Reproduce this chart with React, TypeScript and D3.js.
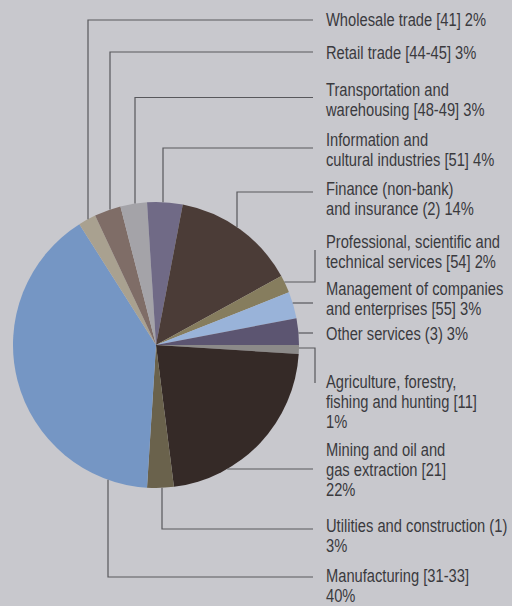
import React from "react";
import * as d3 from "d3";

const categories = [
  "Agriculture, forestry, fishing and hunting [11]",
  "Mining and oil and gas extraction [21]",
  "Utilities and construction (1)",
  "Manufacturing [31-33]",
  "Wholesale trade [41]",
  "Retail trade [44-45]",
  "Transportation and warehousing [48-49]",
  "Information and cultural industries [51]",
  "Finance (non-bank) and insurance (2)",
  "Professional, scientific and technical services [54]",
  "Management of companies and enterprises [55]",
  "Other services (3)",
];
const values = [1, 22, 3, 40, 2, 3, 3, 4, 14, 2, 3, 3];
const labelLines = [
  ["Agriculture, forestry,", "fishing and hunting [11]", "1%"],
  ["Mining and oil and", "gas extraction [21]", "22%"],
  ["Utilities and construction (1)", "3%"],
  ["Manufacturing [31-33]", "40%"],
  ["Wholesale trade [41] 2%"],
  ["Retail trade [44-45] 3%"],
  ["Transportation and", "warehousing [48-49] 3%"],
  ["Information and", "cultural industries [51] 4%"],
  ["Finance (non-bank)", "and insurance (2) 14%"],
  ["Professional, scientific and", "technical services [54] 2%"],
  ["Management of companies", "and enterprises [55] 3%"],
  ["Other services (3) 3%"],
];
const colors = [
  "#8c8a89", "#352a27", "#6a624c", "#7596c4", "#a9a190", "#7f6d67",
  "#a4a3a8", "#706a86", "#4b3c37", "#867d5e", "#99b3d9", "#5c5571",
];

type Leader =
  | { kind: "v"; x: number; y: number }
  | { kind: "h"; y: number }
  | { kind: "hv"; y: number; y2: number };
const layout: { ty: number; leader: Leader }[] = [
  { ty: 388, leader: { kind: "hv", y: 348, y2: 383 } },
  { ty: 456.5, leader: { kind: "h", y: 469 } },
  { ty: 532, leader: { kind: "v", x: 162, y: 529 } },
  { ty: 582, leader: { kind: "v", x: 108, y: 577 } },
  { ty: 26.5, leader: { kind: "v", x: 88, y: 20 } },
  { ty: 59.5, leader: { kind: "v", x: 110, y: 52 } },
  { ty: 96.5, leader: { kind: "v", x: 135, y: 97.5 } },
  { ty: 146.5, leader: { kind: "v", x: 163, y: 148 } },
  { ty: 195, leader: { kind: "v", x: 237, y: 192 } },
  { ty: 248, leader: { kind: "hv", y: 282, y2: 250 } },
  { ty: 295.5, leader: { kind: "h", y: 303 } },
  { ty: 340, leader: { kind: "h", y: 333 } },
];

const W = 512;
const H = 606;
const cx = 156;
const cy = 345;
const R = 143;
const lineEndX = 313;
const elbowX = 315;
const textX = 326;
const lineH = 20;

export default function App() {
  const pie = d3
    .pie<number>()
    .sort(null)
    .startAngle(Math.PI / 2)
    .endAngle(Math.PI / 2 + 2 * Math.PI)
    .value((d) => d);
  const arcs = pie(values);
  const arc = d3.arc<d3.PieArcDatum<number>>().innerRadius(0).outerRadius(R);

  const leaderPath = (l: Leader, i: number) => {
    const a = arcs[i];
    const mid = (a.startAngle + a.endAngle) / 2;
    const bottom = Math.cos(mid) < 0;
    if (l.kind === "v") {
      const dy = Math.sqrt(R * R - (l.x - cx) * (l.x - cx));
      const y0 = bottom ? cy + dy : cy - dy;
      return d3.line()([
        [l.x, y0],
        [l.x, l.y],
        [lineEndX, l.y],
      ]);
    }
    const dx = Math.sqrt(R * R - (l.y - cy) * (l.y - cy));
    const x0 = cx + dx;
    if (l.kind === "h") {
      return d3.line()([
        [x0, l.y],
        [lineEndX, l.y],
      ]);
    }
    return d3.line()([
      [x0, l.y],
      [elbowX, l.y],
      [elbowX, l.y2],
    ]);
  };

  return (
    <svg
      width={W}
      height={H}
      style={{ position: "absolute", left: 0, top: 0, display: "block" }}
    >
      <rect width={W} height={H} fill="#c8c8cd" />
      <g transform={`translate(${cx},${cy})`}>
        {arcs.map((a, i) => (
          <path key={categories[i]} d={arc(a) || ""} fill={colors[i]} />
        ))}
      </g>
      <g fill="none" stroke="#58585c" strokeWidth={1.2}>
        {layout.map((lay, i) => (
          <path key={i} d={leaderPath(lay.leader, i) || ""} />
        ))}
      </g>
      <g
        transform={`translate(${textX},0) scale(0.84,1)`}
        fill="#3a3a3e"
        style={{
          fontFamily: "'Liberation Sans', Arial, sans-serif",
          fontSize: "17.5px",
        }}
      >
        {layout.map((lay, i) => (
          <text key={i} x={0} y={lay.ty}>
            {labelLines[i].map((t, j) => (
              <tspan key={j} x={0} y={lay.ty + j * lineH}>
                {t}
              </tspan>
            ))}
          </text>
        ))}
      </g>
    </svg>
  );
}
